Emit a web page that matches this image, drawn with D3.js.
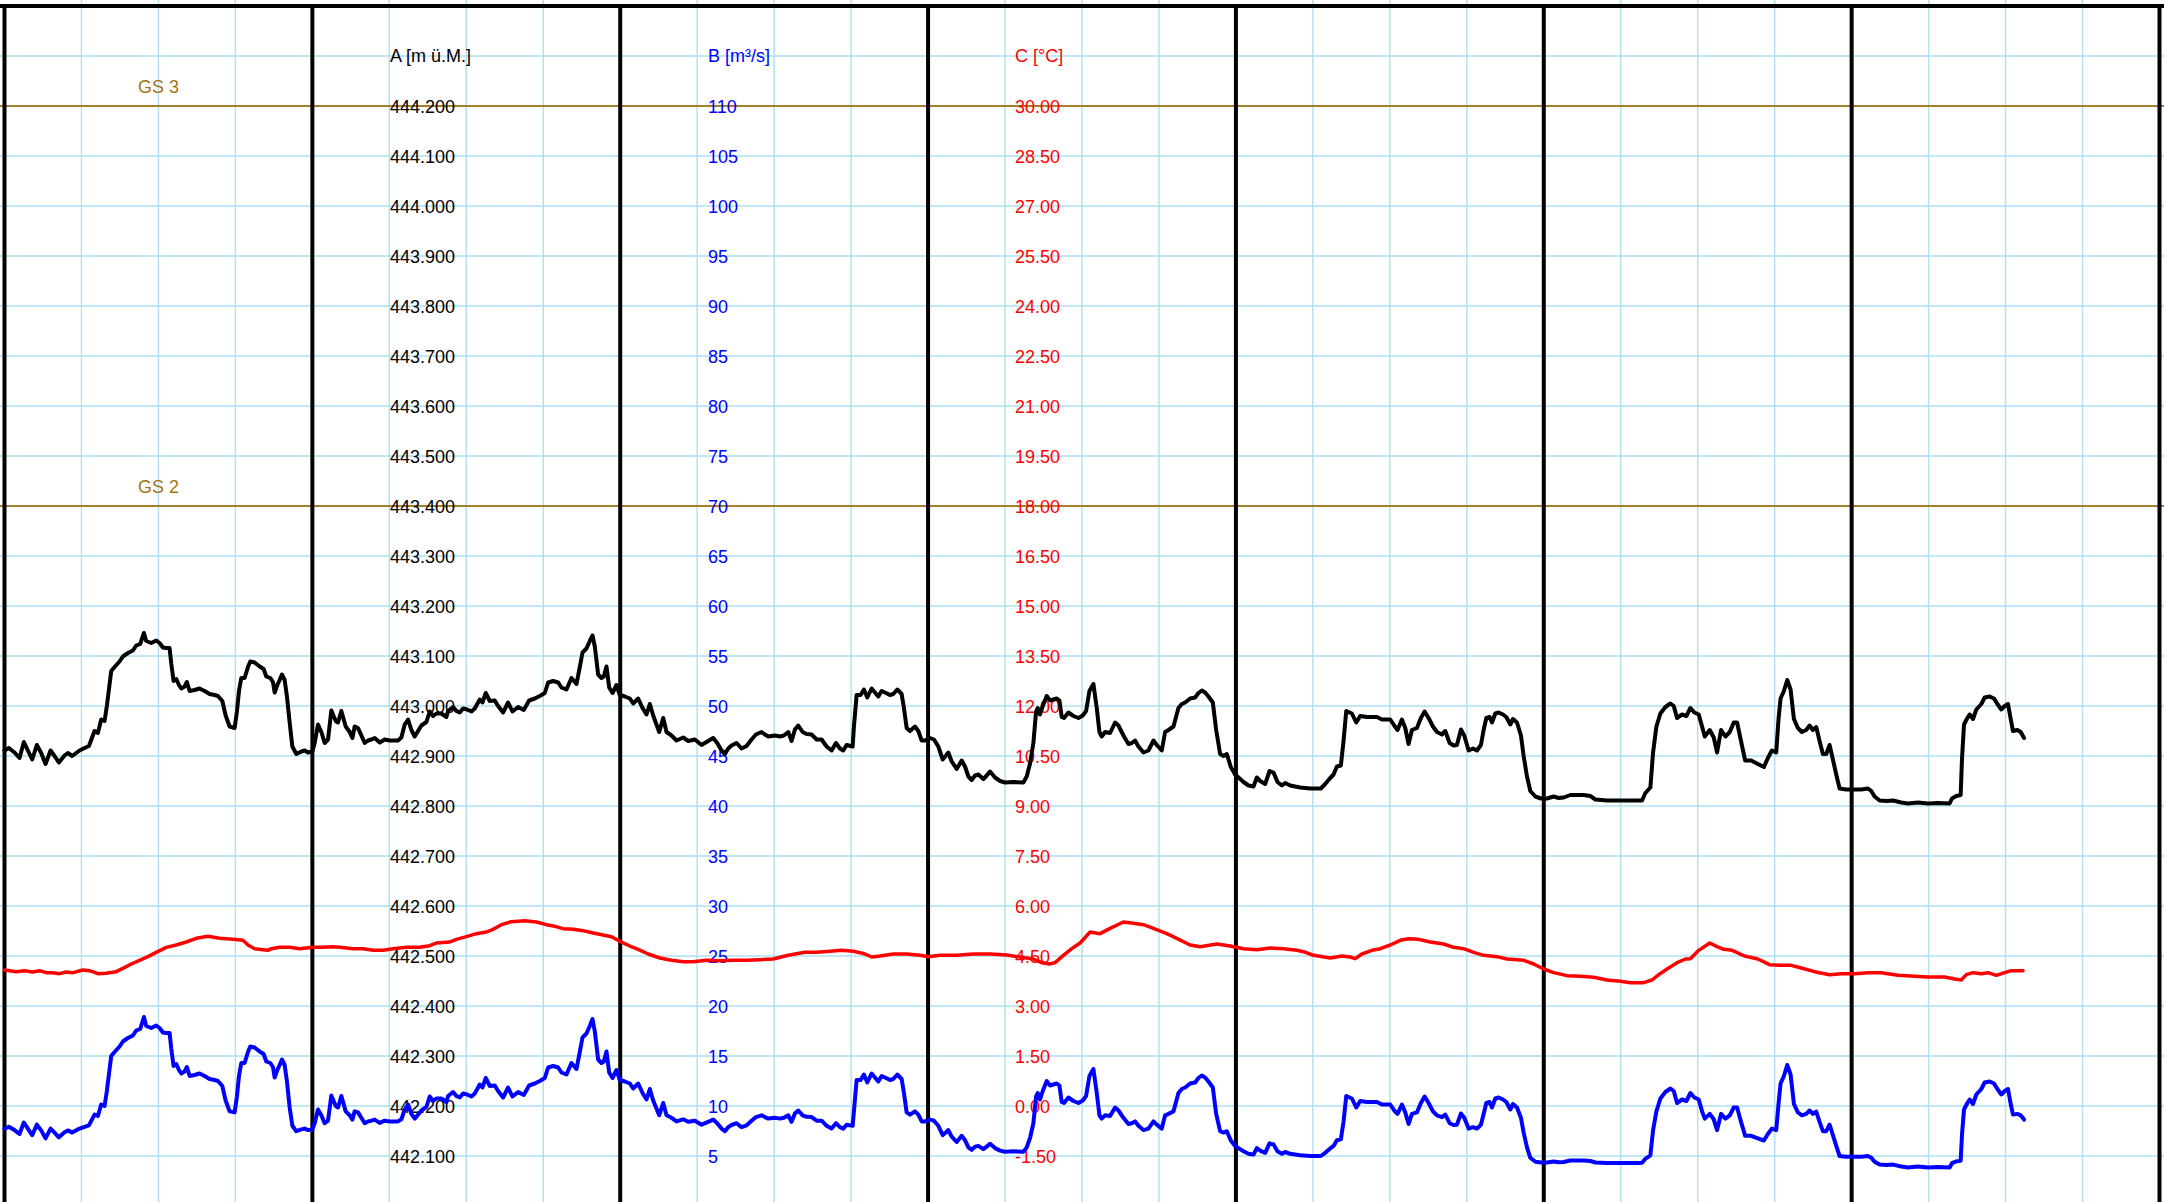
<!DOCTYPE html>
<html><head><meta charset="utf-8">
<script src="https://cdn.jsdelivr.net/npm/d3@7"></script>
<style>
html,body{margin:0;padding:0;background:#fff;overflow:hidden;}
svg{display:block;}
</style></head><body>
<svg id="chart" width="2164" height="1202"></svg>
<script>
// ---- data (hours since start, value) ----
const levelA = [[0.00,442.911],[0.34,442.916],[0.78,442.907],[1.17,442.896],[1.51,442.928],[1.82,442.911],[2.16,442.893],[2.52,442.922],[2.86,442.906],[3.20,442.884],[3.59,442.911],[3.90,442.900],[4.24,442.887],[4.68,442.901],[4.94,442.906],[5.28,442.900],[5.85,442.911],[6.24,442.916],[6.58,442.920],[7.02,442.950],[7.28,442.946],[7.54,442.973],[7.80,442.970],[7.98,443.000],[8.32,443.070],[8.58,443.078],[8.97,443.089],[9.23,443.099],[9.62,443.106],[10.01,443.111],[10.27,443.121],[10.58,443.124],[10.87,443.146],[11.05,443.130],[11.44,443.126],[11.83,443.131],[12.09,443.126],[12.35,443.117],[12.61,443.116],[12.87,443.116],[13.00,443.085],[13.18,443.050],[13.39,443.054],[13.60,443.042],[13.78,443.035],[14.04,443.039],[14.22,443.048],[14.43,443.030],[14.82,443.032],[15.21,443.035],[15.60,443.030],[15.99,443.024],[16.38,443.022],[16.64,443.020],[16.98,443.010],[17.24,442.981],[17.55,442.959],[17.94,442.956],[18.12,442.989],[18.28,443.030],[18.46,443.056],[18.72,443.056],[18.98,443.078],[19.16,443.089],[19.50,443.087],[19.89,443.079],[20.20,443.074],[20.41,443.059],[20.72,443.056],[20.93,443.048],[21.06,443.027],[21.27,443.042],[21.45,443.052],[21.63,443.063],[21.84,443.052],[22.02,443.019],[22.23,442.967],[22.44,442.919],[22.75,442.904],[23.14,442.909],[23.40,442.911],[23.66,442.907],[24.00,442.909],[24.18,442.926],[24.44,442.963],[24.70,442.948],[24.96,442.926],[25.22,442.933],[25.48,442.991],[25.82,442.970],[26.00,442.967],[26.26,442.990],[26.60,442.959],[26.91,442.948],[27.12,442.936],[27.30,442.959],[27.56,442.956],[27.77,442.944],[28.08,442.926],[28.34,442.931],[28.60,442.933],[28.86,442.936],[29.25,442.927],[29.64,442.933],[30.03,442.931],[30.68,442.931],[30.94,442.937],[31.20,442.963],[31.46,442.973],[31.72,442.952],[31.98,442.939],[32.24,442.950],[32.50,442.961],[32.89,442.968],[33.15,442.989],[33.41,442.980],[33.67,442.985],[34.06,442.985],[34.45,442.978],[34.58,442.990],[34.97,442.998],[35.23,442.990],[35.49,442.987],[35.75,442.995],[36.06,442.993],[36.40,442.989],[36.66,442.995],[37.05,443.013],[37.26,443.007],[37.52,443.026],[37.83,443.010],[38.22,443.011],[38.48,443.000],[38.87,442.987],[39.26,443.007],[39.60,442.989],[40.04,442.998],[40.48,442.992],[40.90,443.011],[41.34,443.015],[41.73,443.020],[42.12,443.026],[42.38,443.047],[42.77,443.050],[43.16,443.047],[43.42,443.037],[43.81,443.033],[44.20,443.056],[44.59,443.044],[44.85,443.078],[45.06,443.107],[45.37,443.115],[45.63,443.130],[45.84,443.141],[46.02,443.119],[46.28,443.063],[46.54,443.056],[46.72,443.059],[46.93,443.079],[47.14,443.037],[47.40,443.026],[47.71,443.042],[47.97,443.022],[48.36,443.019],[48.75,443.015],[49.01,443.005],[49.40,443.015],[49.74,442.996],[50.05,442.983],[50.31,443.004],[50.57,442.981],[51.04,442.948],[51.35,442.976],[51.61,442.948],[52.00,442.941],[52.39,442.931],[52.91,442.937],[53.30,442.930],[53.82,442.933],[54.34,442.922],[54.86,442.930],[55.25,442.936],[55.56,442.926],[55.90,442.911],[56.16,442.904],[56.42,442.915],[56.68,442.921],[57.07,442.926],[57.46,442.915],[57.85,442.920],[58.24,442.933],[58.58,442.943],[59.02,442.948],[59.28,442.943],[59.54,442.939],[60.06,442.941],[60.45,442.939],[60.76,442.941],[61.10,442.948],[61.36,442.930],[61.62,442.953],[61.88,442.961],[62.22,442.948],[62.53,442.944],[62.92,442.943],[63.31,442.933],[63.70,442.933],[64.09,442.919],[64.48,442.911],[64.82,442.926],[65.13,442.915],[65.39,442.911],[65.65,442.922],[66.12,442.919],[66.22,442.959],[66.43,443.022],[66.74,443.022],[67.00,443.033],[67.26,443.017],[67.60,443.035],[67.86,443.027],[68.12,443.019],[68.38,443.030],[68.72,443.026],[69.03,443.022],[69.29,443.024],[69.60,443.033],[69.94,443.024],[70.12,442.996],[70.33,442.956],[70.59,442.950],[70.98,442.959],[71.24,442.950],[71.50,442.931],[71.76,442.931],[72.15,442.936],[72.46,442.933],[72.80,442.919],[73.14,442.893],[73.40,442.901],[73.58,442.907],[73.84,442.889],[74.23,442.874],[74.62,442.891],[74.88,442.879],[75.14,442.859],[75.40,442.852],[75.66,442.861],[75.92,442.863],[76.31,442.854],[76.57,442.861],[76.83,442.869],[77.22,442.857],[77.61,442.850],[78.00,442.847],[78.65,442.848],[79.43,442.847],[79.69,442.859],[79.95,442.885],[80.21,442.926],[80.42,442.989],[80.55,442.996],[80.73,442.983],[80.94,443.000],[81.25,443.020],[81.51,443.011],[82.03,443.015],[82.24,443.011],[82.42,442.978],[82.60,442.976],[82.94,442.987],[83.33,442.980],[83.72,442.976],[84.06,442.981],[84.32,442.990],[84.58,443.030],[84.89,443.044],[85.15,442.996],[85.36,442.948],[85.54,442.939],[85.80,442.948],[86.19,442.946],[86.58,442.967],[86.84,442.961],[87.23,442.941],[87.62,442.924],[87.88,442.926],[88.14,442.931],[88.40,442.919],[88.79,442.907],[89.18,442.911],[89.57,442.931],[89.83,442.922],[90.22,442.911],[90.48,442.948],[90.74,442.952],[91.13,442.959],[91.52,442.996],[91.78,443.004],[92.04,443.007],[92.43,443.015],[92.82,443.017],[93.08,443.026],[93.34,443.031],[93.60,443.027],[93.86,443.019],[94.20,443.007],[94.46,442.952],[94.77,442.904],[95.03,442.900],[95.29,442.904],[95.60,442.878],[95.94,442.863],[96.20,442.857],[96.59,442.848],[96.98,442.841],[97.37,442.839],[97.63,442.857],[97.89,442.850],[98.28,442.844],[98.62,442.870],[98.93,442.867],[99.24,442.848],[99.58,442.841],[99.84,442.846],[100.23,442.841],[101.01,442.837],[101.79,442.835],[102.62,442.835],[102.96,442.844],[103.35,442.856],[103.61,442.863],[103.87,442.879],[104.18,442.881],[104.39,442.930],[104.60,442.990],[105.04,442.985],[105.38,442.967],[105.69,442.980],[106.21,442.978],[106.99,442.978],[107.38,442.973],[108.03,442.973],[108.34,442.961],[108.60,442.952],[108.94,442.973],[109.20,442.956],[109.46,442.924],[109.72,442.952],[110.11,442.956],[110.42,442.976],[110.71,442.989],[111.02,442.976],[111.36,442.959],[111.67,442.948],[112.06,442.943],[112.32,442.950],[112.66,442.926],[112.97,442.921],[113.23,442.922],[113.54,442.953],[113.80,442.941],[114.14,442.911],[114.48,442.915],[114.79,442.911],[115.10,442.922],[115.31,442.952],[115.52,442.976],[115.78,442.978],[115.96,442.967],[116.22,442.985],[116.48,442.987],[116.82,442.983],[117.08,442.978],[117.39,442.963],[117.60,442.974],[117.91,442.967],[118.22,442.941],[118.43,442.900],[118.69,442.859],[118.95,442.830],[119.34,442.819],[119.78,442.815],[120.25,442.815],[120.77,442.819],[121.16,442.816],[121.55,442.817],[122.07,442.822],[122.59,442.822],[123.11,442.822],[123.63,442.820],[124.02,442.813],[124.93,442.811],[125.71,442.811],[126.49,442.811],[127.27,442.811],[127.66,442.811],[127.92,442.826],[128.31,442.837],[128.52,442.907],[128.78,442.959],[129.09,442.985],[129.48,442.998],[129.87,443.005],[130.13,443.000],[130.39,442.976],[130.78,442.983],[131.12,442.980],[131.43,442.996],[131.74,442.987],[132.08,442.983],[132.34,442.959],[132.55,442.939],[132.94,442.952],[133.25,442.937],[133.51,442.907],[133.82,442.952],[134.16,442.939],[134.50,442.948],[134.81,442.967],[135.07,442.967],[135.44,442.922],[135.70,442.891],[136.17,442.891],[136.69,442.884],[137.16,442.878],[137.47,442.896],[137.78,442.911],[138.12,442.907],[138.30,442.974],[138.46,443.015],[138.72,443.030],[138.98,443.052],[139.24,443.033],[139.50,442.974],[139.81,442.956],[140.12,442.948],[140.46,442.952],[140.72,442.961],[140.98,442.952],[141.24,442.958],[141.50,442.930],[141.76,442.904],[142.02,442.904],[142.28,442.922],[142.54,442.893],[142.80,442.863],[143.06,442.835],[143.58,442.833],[144.23,442.833],[144.75,442.833],[145.27,442.835],[145.53,442.830],[145.79,442.819],[146.18,442.811],[146.70,442.810],[147.22,442.811],[147.87,442.807],[148.39,442.805],[149.17,442.807],[149.95,442.805],[150.73,442.806],[151.64,442.805],[151.82,442.815],[152.16,442.820],[152.50,442.822],[152.60,442.893],[152.76,442.963],[153.02,442.976],[153.20,442.983],[153.46,442.974],[153.72,442.993],[154.11,443.004],[154.37,443.017],[154.76,443.019],[155.10,443.015],[155.36,443.004],[155.67,442.993],[155.93,443.000],[156.19,443.004],[156.40,442.974],[156.58,442.950],[156.92,442.952],[157.18,442.948],[157.44,442.936]];

const flowB = [[0.00,7.74],[0.34,7.92],[0.78,7.59],[1.17,7.20],[1.51,8.35],[1.82,7.74],[2.16,7.09],[2.52,8.13],[2.86,7.56],[3.20,6.76],[3.59,7.74],[3.90,7.34],[4.24,6.87],[4.68,7.38],[4.94,7.56],[5.28,7.34],[5.85,7.74],[6.24,7.92],[6.58,8.06],[7.02,9.14],[7.28,9.00],[7.54,10.15],[7.80,10.00],[7.98,11.50],[8.32,15.00],[8.58,15.40],[8.97,15.95],[9.23,16.45],[9.62,16.80],[10.01,17.05],[10.27,17.55],[10.58,17.70],[10.87,18.90],[11.05,18.00],[11.44,17.80],[11.83,18.05],[12.09,17.80],[12.35,17.35],[12.61,17.30],[12.87,17.30],[13.00,15.75],[13.18,14.00],[13.39,14.20],[13.60,13.60],[13.78,13.25],[14.04,13.45],[14.22,13.90],[14.43,13.00],[14.82,13.10],[15.21,13.25],[15.60,13.00],[15.99,12.70],[16.38,12.60],[16.64,12.50],[16.98,12.00],[17.24,10.55],[17.55,9.46],[17.94,9.36],[18.12,10.95],[18.28,13.00],[18.46,14.30],[18.72,14.30],[18.98,15.40],[19.16,15.95],[19.50,15.85],[19.89,15.45],[20.20,15.20],[20.41,14.45],[20.72,14.30],[20.93,13.90],[21.06,12.85],[21.27,13.60],[21.45,14.10],[21.63,14.65],[21.84,14.10],[22.02,12.45],[22.23,9.85],[22.44,8.02],[22.75,7.48],[23.14,7.66],[23.40,7.74],[23.66,7.59],[24.00,7.66],[24.18,8.28],[24.44,9.65],[24.70,9.07],[24.96,8.28],[25.22,8.53],[25.48,11.05],[25.82,10.00],[26.00,9.85],[26.26,11.00],[26.60,9.46],[26.91,9.07],[27.12,8.64],[27.30,9.46],[27.56,9.36],[27.77,8.92],[28.08,8.28],[28.34,8.46],[28.60,8.53],[28.86,8.64],[29.25,8.31],[29.64,8.53],[30.03,8.46],[30.68,8.46],[30.94,8.67],[31.20,9.65],[31.46,10.15],[31.72,9.21],[31.98,8.74],[32.24,9.14],[32.50,9.55],[32.89,9.90],[33.15,10.95],[33.41,10.50],[33.67,10.75],[34.06,10.75],[34.45,10.40],[34.58,11.00],[34.97,11.40],[35.23,11.00],[35.49,10.85],[35.75,11.25],[36.06,11.15],[36.40,10.95],[36.66,11.25],[37.05,12.15],[37.26,11.85],[37.52,12.80],[37.83,12.00],[38.22,12.05],[38.48,11.50],[38.87,10.85],[39.26,11.85],[39.60,10.95],[40.04,11.40],[40.48,11.10],[40.90,12.05],[41.34,12.25],[41.73,12.50],[42.12,12.80],[42.38,13.85],[42.77,14.00],[43.16,13.85],[43.42,13.35],[43.81,13.15],[44.20,14.30],[44.59,13.70],[44.85,15.40],[45.06,16.85],[45.37,17.25],[45.63,18.00],[45.84,18.70],[46.02,17.45],[46.28,14.65],[46.54,14.30],[46.72,14.45],[46.93,15.45],[47.14,13.35],[47.40,12.80],[47.71,13.60],[47.97,12.60],[48.36,12.45],[48.75,12.25],[49.01,11.75],[49.40,12.25],[49.74,11.30],[50.05,10.65],[50.31,11.70],[50.57,10.55],[51.04,9.07],[51.35,10.30],[51.61,9.07],[52.00,8.82],[52.39,8.46],[52.91,8.67],[53.30,8.42],[53.82,8.53],[54.34,8.13],[54.86,8.42],[55.25,8.64],[55.56,8.28],[55.90,7.74],[56.16,7.48],[56.42,7.88],[56.68,8.10],[57.07,8.28],[57.46,7.88],[57.85,8.06],[58.24,8.53],[58.58,8.89],[59.02,9.07],[59.28,8.89],[59.54,8.74],[60.06,8.82],[60.45,8.74],[60.76,8.82],[61.10,9.07],[61.36,8.42],[61.62,9.25],[61.88,9.55],[62.22,9.07],[62.53,8.92],[62.92,8.89],[63.31,8.53],[63.70,8.53],[64.09,8.02],[64.48,7.74],[64.82,8.28],[65.13,7.88],[65.39,7.74],[65.65,8.13],[66.12,8.02],[66.22,9.46],[66.43,12.60],[66.74,12.60],[67.00,13.15],[67.26,12.35],[67.60,13.25],[67.86,12.85],[68.12,12.45],[68.38,13.00],[68.72,12.80],[69.03,12.60],[69.29,12.70],[69.60,13.15],[69.94,12.70],[70.12,11.30],[70.33,9.36],[70.59,9.14],[70.98,9.46],[71.24,9.14],[71.50,8.46],[71.76,8.46],[72.15,8.64],[72.46,8.53],[72.80,8.02],[73.14,7.09],[73.40,7.38],[73.58,7.59],[73.84,6.94],[74.23,6.40],[74.62,7.02],[74.88,6.58],[75.14,5.86],[75.40,5.61],[75.66,5.94],[75.92,6.01],[76.31,5.68],[76.57,5.94],[76.83,6.22],[77.22,5.79],[77.61,5.54],[78.00,5.43],[78.65,5.47],[79.43,5.43],[79.69,5.86],[79.95,6.80],[80.21,8.28],[80.42,10.95],[80.55,11.30],[80.73,10.65],[80.94,11.50],[81.25,12.50],[81.51,12.05],[82.03,12.25],[82.24,12.05],[82.42,10.40],[82.60,10.30],[82.94,10.85],[83.33,10.50],[83.72,10.30],[84.06,10.55],[84.32,11.00],[84.58,13.00],[84.89,13.70],[85.15,11.30],[85.36,9.07],[85.54,8.74],[85.80,9.07],[86.19,9.00],[86.58,9.85],[86.84,9.55],[87.23,8.82],[87.62,8.20],[87.88,8.28],[88.14,8.46],[88.40,8.02],[88.79,7.59],[89.18,7.74],[89.57,8.46],[89.83,8.13],[90.22,7.74],[90.48,9.07],[90.74,9.21],[91.13,9.46],[91.52,11.30],[91.78,11.70],[92.04,11.85],[92.43,12.25],[92.82,12.35],[93.08,12.80],[93.34,13.05],[93.60,12.85],[93.86,12.45],[94.20,11.85],[94.46,9.21],[94.77,7.48],[95.03,7.34],[95.29,7.48],[95.60,6.55],[95.94,6.01],[96.20,5.79],[96.59,5.47],[96.98,5.22],[97.37,5.14],[97.63,5.79],[97.89,5.54],[98.28,5.32],[98.62,6.26],[98.93,6.15],[99.24,5.47],[99.58,5.22],[99.84,5.40],[100.23,5.22],[101.01,5.07],[101.79,5.00],[102.62,5.00],[102.96,5.32],[103.35,5.76],[103.61,6.01],[103.87,6.58],[104.18,6.66],[104.39,8.42],[104.60,11.00],[105.04,10.75],[105.38,9.85],[105.69,10.50],[106.21,10.40],[106.99,10.40],[107.38,10.15],[108.03,10.15],[108.34,9.55],[108.60,9.21],[108.94,10.15],[109.20,9.36],[109.46,8.20],[109.72,9.21],[110.11,9.36],[110.42,10.30],[110.71,10.95],[111.02,10.30],[111.36,9.46],[111.67,9.07],[112.06,8.89],[112.32,9.14],[112.66,8.28],[112.97,8.10],[113.23,8.13],[113.54,9.25],[113.80,8.82],[114.14,7.74],[114.48,7.88],[114.79,7.74],[115.10,8.13],[115.31,9.21],[115.52,10.30],[115.78,10.40],[115.96,9.85],[116.22,10.75],[116.48,10.85],[116.82,10.65],[117.08,10.40],[117.39,9.65],[117.60,10.20],[117.91,9.85],[118.22,8.82],[118.43,7.34],[118.69,5.86],[118.95,4.82],[119.34,4.42],[119.78,4.35],[120.25,4.35],[120.77,4.45],[121.16,4.38],[121.55,4.40],[122.07,4.55],[122.59,4.55],[123.11,4.55],[123.63,4.50],[124.02,4.35],[124.93,4.30],[125.71,4.30],[126.49,4.30],[127.27,4.30],[127.66,4.32],[127.92,4.72],[128.31,5.07],[128.52,7.59],[128.78,9.46],[129.09,10.75],[129.48,11.40],[129.87,11.75],[130.13,11.50],[130.39,10.30],[130.78,10.65],[131.12,10.50],[131.43,11.30],[131.74,10.85],[132.08,10.65],[132.34,9.46],[132.55,8.74],[132.94,9.21],[133.25,8.67],[133.51,7.59],[133.82,9.21],[134.16,8.74],[134.50,9.07],[134.81,9.85],[135.07,9.85],[135.44,8.13],[135.70,7.02],[136.17,7.02],[136.69,6.76],[137.16,6.55],[137.47,7.20],[137.78,7.74],[138.12,7.59],[138.30,10.20],[138.46,12.25],[138.72,13.00],[138.98,14.10],[139.24,13.15],[139.50,10.20],[139.81,9.36],[140.12,9.07],[140.46,9.21],[140.72,9.55],[140.98,9.21],[141.24,9.43],[141.50,8.42],[141.76,7.48],[142.02,7.48],[142.28,8.13],[142.54,7.09],[142.80,6.01],[143.06,5.00],[143.58,4.93],[144.23,4.93],[144.75,4.93],[145.27,5.00],[145.53,4.82],[145.79,4.42],[146.18,4.14],[146.70,4.10],[147.22,4.14],[147.87,3.95],[148.39,3.85],[149.17,3.95],[149.95,3.85],[150.73,3.90],[151.64,3.85],[151.82,4.28],[152.16,4.46],[152.50,4.53],[152.60,7.09],[152.76,9.65],[153.02,10.30],[153.20,10.65],[153.46,10.20],[153.72,11.15],[154.11,11.70],[154.37,12.35],[154.76,12.45],[155.10,12.25],[155.36,11.70],[155.67,11.15],[155.93,11.50],[156.19,11.70],[156.40,10.20],[156.58,9.14],[156.92,9.21],[157.18,9.07],[157.44,8.64]];

const tempC = [[0.00,4.08],[0.39,4.06],[0.91,4.03],[1.56,4.06],[2.21,4.02],[2.73,4.06],[3.25,4.00],[3.77,4.00],[4.29,3.97],[4.81,4.02],[5.33,4.00],[6.11,4.08],[6.63,4.06],[7.28,3.97],[7.93,3.98],[8.71,4.03],[9.23,4.13],[9.88,4.26],[10.53,4.37],[11.18,4.48],[11.83,4.61],[12.61,4.76],[13.39,4.83],[14.17,4.92],[14.95,5.03],[15.86,5.09],[16.77,5.03],[17.81,5.00],[18.59,4.97],[18.98,4.83],[19.50,4.72],[20.15,4.69],[20.54,4.67],[20.80,4.72],[21.45,4.76],[22.23,4.76],[23.01,4.72],[24.05,4.76],[24.83,4.76],[25.61,4.78],[26.13,4.76],[27.17,4.72],[27.95,4.72],[28.73,4.67],[29.51,4.67],[30.29,4.72],[31.33,4.76],[32.37,4.76],[33.15,4.81],[33.67,4.89],[34.71,4.92],[35.23,5.00],[36.01,5.08],[36.79,5.17],[37.57,5.22],[38.09,5.30],[38.74,5.44],[39.52,5.53],[40.56,5.56],[41.47,5.52],[42.25,5.44],[42.90,5.39],[43.55,5.32],[44.33,5.30],[45.11,5.26],[45.89,5.19],[46.67,5.13],[47.32,5.08],[47.97,4.94],[48.75,4.80],[49.40,4.70],[50.18,4.56],[51.09,4.44],[52.00,4.37],[52.91,4.33],[53.69,4.33],[54.73,4.37],[55.77,4.36],[56.81,4.37],[57.85,4.37],[58.89,4.39],[59.93,4.41],[60.84,4.50],[61.62,4.56],[62.40,4.61],[63.31,4.61],[64.35,4.64],[65.26,4.67],[66.17,4.64],[66.69,4.60],[67.08,4.56],[67.60,4.47],[68.25,4.50],[69.29,4.56],[70.33,4.56],[71.37,4.52],[72.02,4.48],[72.93,4.52],[74.23,4.52],[75.53,4.56],[76.83,4.56],[78.13,4.53],[79.17,4.47],[80.21,4.41],[80.86,4.30],[81.46,4.26],[81.90,4.30],[82.55,4.52],[83.20,4.72],[83.85,4.89],[84.63,5.22],[85.41,5.17],[86.19,5.33],[87.23,5.52],[88.01,5.48],[88.79,5.44],[89.57,5.33],[90.61,5.17],[91.39,5.03],[92.43,4.83],[93.21,4.78],[94.51,4.86],[95.55,4.80],[96.59,4.72],[97.63,4.69],[98.67,4.74],[99.71,4.72],[100.75,4.67],[101.27,4.63],[102.05,4.52],[103.35,4.44],[104.26,4.50],[104.91,4.47],[105.30,4.42],[105.82,4.56],[106.60,4.67],[107.25,4.72],[108.03,4.83],[108.81,4.97],[109.46,5.02],[110.24,5.00],[111.15,4.92],[112.19,4.86],[112.97,4.76],[113.75,4.72],[114.53,4.61],[115.31,4.52],[116.35,4.48],[117.13,4.41],[118.43,4.37],[119.21,4.26],[119.99,4.11],[120.77,4.00],[121.81,3.91],[122.85,3.89],[123.89,3.86],[124.93,3.78],[125.97,3.74],[126.75,3.70],[127.79,3.70],[128.44,3.78],[128.96,3.94],[129.61,4.11],[130.39,4.30],[131.04,4.41],[131.43,4.42],[132.08,4.67],[132.94,4.89],[133.51,4.78],[134.03,4.70],[134.68,4.67],[135.65,4.50],[136.69,4.41],[137.60,4.24],[138.51,4.22],[139.29,4.22],[140.07,4.14],[141.11,4.03],[142.28,3.94],[143.19,3.97],[144.23,3.97],[145.27,4.00],[146.31,4.00],[147.61,3.92],[148.91,3.89],[149.95,3.87],[151.25,3.87],[152.03,3.81],[152.55,3.78],[152.94,3.94],[153.46,4.00],[154.11,3.97],[154.63,4.00],[155.28,3.92],[155.93,4.00],[156.45,4.06],[157.36,4.06]];

const ticksA = [444.2,444.1,444.0,443.9,443.8,443.7,443.6,443.5,443.4,443.3,443.2,443.1,443.0,442.9,442.8,442.7,442.6,442.5,442.4,442.3,442.2,442.1];
const ticksB = [110,105,100,95,90,85,80,75,70,65,60,55,50,45,40,35,30,25,20,15,10,5];
const ticksC = [30,28.5,27,25.5,24,22.5,21,19.5,18,16.5,15,13.5,12,10.5,9,7.5,6,4.5,3,1.5,0,-1.5];
const axisTitles = ["A [m ü.M.]", "B [m³/s]", "C [°C]"];
const limitNames = ["GS 3", "GS 2"];
const limitValues = [444.2, 443.4];
const dayHours = [0, 24, 48, 72, 96, 120, 144, 168];

// ---- drawing ----
const W = 2164, H = 1202;
const FONT = "'Liberation Sans', Arial, Helvetica, sans-serif";
const svg = d3.select("#chart");

const x  = d3.scaleLinear().domain([0, 168]).range([4.5, 2159.5]);
const yA = d3.scaleLinear().domain([442.0, 444.4]).range([1206, 6]);
const yB = d3.scaleLinear().domain([0, 120]).range([1206, 6]);
const yC = d3.scaleLinear().domain([-3, 33]).range([1206, 6]);

const gridColor = "#ade0f0";
svg.append("g").selectAll("line").data(yA.ticks(24)).join("line")
  .attr("x1", 0).attr("x2", W)
  .attr("y1", d => yA(d)).attr("y2", d => yA(d))
  .attr("stroke", gridColor).attr("stroke-width", 1.4);
svg.append("g").selectAll("line").data(d3.range(0, 169, 6).filter(h => h % 24 !== 0)).join("line")
  .attr("x1", d => x(d)).attr("x2", d => x(d))
  .attr("y1", 0).attr("y2", H)
  .attr("stroke", gridColor).attr("stroke-width", 1.4);

const gsColor = "#a47f2c";
svg.append("g").selectAll("line").data(limitValues).join("line")
  .attr("x1", 0).attr("x2", W)
  .attr("y1", d => yA(d)).attr("y2", d => yA(d))
  .attr("stroke", gsColor).attr("stroke-width", 2);
svg.append("g").selectAll("text").data(limitValues).join("text")
  .attr("x", x(12)).attr("y", d => yA(d) - 13)
  .attr("text-anchor", "middle")
  .attr("font-family", FONT).attr("font-size", 18)
  .attr("fill", "#a37516")
  .text((d, i) => limitNames[i]);

svg.append("g").selectAll("line").data(dayHours).join("line")
  .attr("x1", d => x(d)).attr("x2", d => x(d))
  .attr("y1", 4).attr("y2", H)
  .attr("stroke", "#000").attr("stroke-width", 4);
svg.append("line").attr("x1", 0).attr("x2", W).attr("y1", 6).attr("y2", 6)
  .attr("stroke", "#000").attr("stroke-width", 4);

function labelAxis(scale, ticks, fmt, xPos, color, title) {
  const g = svg.append("g").attr("transform", `translate(${xPos},0)`)
    .call(d3.axisRight(scale).tickValues(ticks).tickSize(0).tickPadding(0).tickFormat(fmt));
  g.select(".domain").remove();
  g.attr("font-family", FONT).attr("font-size", 18);
  g.selectAll(".tick text").attr("fill", color).attr("dy", "0.36em");
  g.append("text").attr("x", 0).attr("y", yA(444.3)).attr("dy", "0.36em")
    .attr("fill", color).attr("text-anchor", "start").text(title);
}
labelAxis(yA, ticksA, d => d.toFixed(3), 390, "#000000", axisTitles[0]);
labelAxis(yB, ticksB, d => String(d), 708, "#0000ff", axisTitles[1]);
labelAxis(yC, ticksC, d => d.toFixed(2), 1015, "#ff0000", axisTitles[2]);

const mk = (ys) => d3.line().x(d => x(d[0])).y(d => ys(d[1]));
svg.append("path").datum(tempC).attr("d", mk(yC))
  .attr("fill", "none").attr("stroke", "#ff0000").attr("stroke-width", 3.5)
  .attr("stroke-linejoin", "round").attr("stroke-linecap", "round");
svg.append("path").datum(flowB).attr("d", mk(yB))
  .attr("fill", "none").attr("stroke", "#0000ff").attr("stroke-width", 4)
  .attr("stroke-linejoin", "round").attr("stroke-linecap", "round");
svg.append("path").datum(levelA).attr("d", mk(yA))
  .attr("fill", "none").attr("stroke", "#000000").attr("stroke-width", 4)
  .attr("stroke-linejoin", "round").attr("stroke-linecap", "round");
</script>
</body></html>
